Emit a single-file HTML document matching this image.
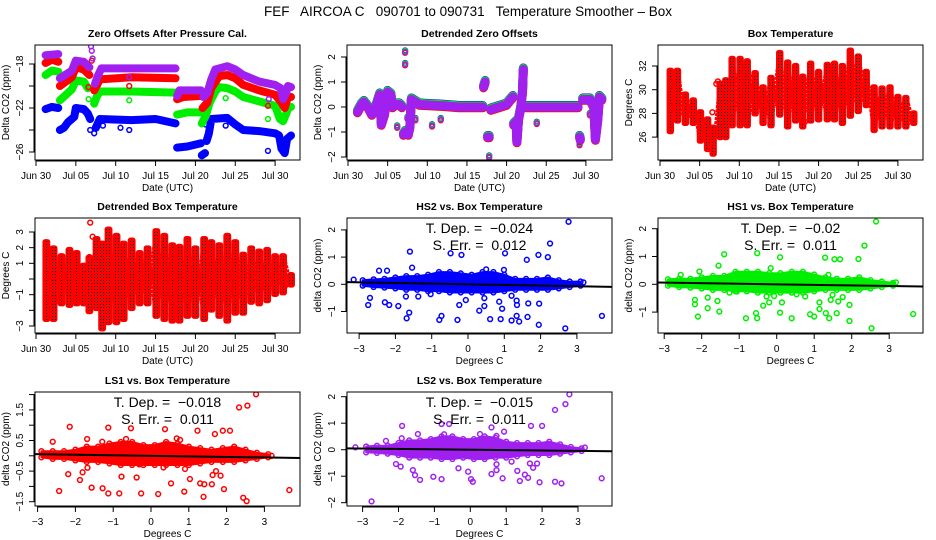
<!DOCTYPE html>
<html><head><meta charset="utf-8"><style>
html,body{margin:0;padding:0;background:#fff;}
svg{display:block;font-family:"Liberation Sans",sans-serif;}
text{white-space:pre;}
</style></head><body>
<svg id="chart" width="936" height="540" viewBox="0 0 936 540" xmlns="http://www.w3.org/2000/svg">
<defs>
<pattern id="redchk" width="3" height="3" patternUnits="userSpaceOnUse"><rect width="3" height="3" fill="#ff0000"/><rect x="1" y="1" width="1" height="1" fill="#000"/></pattern>
</defs>
<text x="468" y="16" text-anchor="middle" font-size="13.5" xml:space="preserve">FEF   AIRCOA C   090701 to 090731   Temperature Smoother – Box</text>
</svg>
<script>
// ---------- DATA ----------
const dateTickDays = [0,5,10,15,20,25,30];
const dateTickLabels = ["Jun 30","Jul 05","Jul 10","Jul 15","Jul 20","Jul 25","Jul 30"];
const tempTicks = [-3,-2,-1,0,1,2,3];

const zoLS2 = [[1.2,-17.2],[2.8,-17.1],null,[3,-19.3],[4.5,-18.6],[5,-17.7],[6,-17.8],[6.7,-18.3],null,[7.4,-19.8],[7.8,-19],[8.2,-18.4],[12,-18.4],[17.5,-18.4],null,[17.7,-20.9],[18,-20.4],[20.7,-20.4],null,[21,-21],[21.5,-20.6],[22,-19.4],[22.5,-18.5],[24,-18.2],[25,-18.5],[26,-19],[28,-19.6],[30,-19.9],[30.7,-20.2],[31,-21.2],[31.4,-20.6],[31.6,-20],[32,-20.1]];
const zoLS2Out = [[6.9,-16.4],[7,-16.8],[7.1,-17.5],[11.7,-19.2],[29.2,-21.2]];
const zoLS1 = [[1.2,-17.9],[2,-17.6],[2.8,-17.8],null,[3,-20],[4.5,-19.2],[5,-18.3],[6,-18.5],[6.7,-19],null,[7.3,-20.4],[7.6,-20],[8,-19.4],[12,-19.2],[17.5,-19.3],null,[17.7,-21.2],[18.5,-21],[20.7,-20.9],null,[20.9,-22],[21.5,-21.5],[22,-20.2],[23,-19.1],[24,-19],[25,-19.3],[26,-19.9],[28,-20.4],[30,-20.8],[30.8,-21.5],[31.2,-22],[31.6,-21],[32,-21]];
const zoLS1Out = [[7,-17.7],[6.6,-20.1],[11.7,-20],[29.1,-21.8],[30.6,-20.2]];
const zoHS1 = [[1.2,-19],[2,-18.6],[2.8,-18.7],null,[3,-21.3],[4.5,-20.3],[5,-19.5],[6,-19.6],[6.5,-20.2],null,[7.3,-21.6],[7.6,-21],[8,-20.5],[12,-20.5],[17.5,-20.6],null,[17.7,-22.6],[19,-22.4],[20.7,-22.4],null,[20.8,-23.4],[21.3,-22.7],[21.8,-21.5],[22.5,-20.5],[23,-20.1],[24,-20.2],[25,-20.5],[26,-21],[28,-21.4],[30,-21.8],[30.6,-23],[31,-23.2],[31.4,-22.5],[31.7,-21.9],[32,-21.9]];
const zoHS1Out = [[6.6,-21.2],[11.7,-21.3],[23.8,-21.1],[29.1,-23],[31.3,-22.5],[21.5,-21.7]];
const zoHS2 = [[1.2,-22.1],[2,-21.9],[2.8,-22],null,[3,-24],[3.5,-23.8],[4,-23.3],[4.8,-22.8],[5,-22],[6,-22.1],[6.5,-22.5],[6.8,-23],null,[7.5,-23.8],[8,-23],[12,-23.1],[15,-23],[17.5,-23.4],null,[17.7,-25.6],[19,-25.5],[20.7,-25.2],null,[20.8,-26.3],[21.2,-26.1],null,[21.4,-25],[21.7,-24.3],[22,-23],[24,-22.9],[25,-23.5],[26,-24],[28,-24.1],[30,-24.3],[30.5,-24.5],[30.8,-25.7],[31.2,-26.1],[31.5,-24.8],[32,-24.5]];
const zoHS2Out = [[6.8,-24],[7.3,-24.3],[7.4,-23.8],[8.4,-23.6],[10.6,-23.8],[11.7,-24],[21.3,-23.5],[23.8,-23.6],[29.1,-25.9],[31.2,-25.5],[30.7,-25.7]];

const detZO = [[1.2,-0.2],[1.7,0.1],[2,0.2],[2.5,0],[3,-0.3],[3.5,0],[4,0.5],[4.2,-0.7],[4.6,-0.3],[5,0.6],[5.4,0.5],[5.6,0],[6,0.1],[6.5,0.1],[6.8,0],null,[7,-1.1],[7.2,-1],null,[7.6,-1.1],[7.8,-0.8],[8,0.3],[9,0.1],[12,0.05],[14,0],[17,0],null,[17.1,0.8],[17.3,1],null,[17.6,-1.2],[17.8,-1.2],null,[18,-0.1],[19,0],[20,0.1],[20.5,0.3],[20.8,0.4],null,[20.9,-0.7],[21.2,-0.6],[21.3,-1.4],[21.5,-0.5],[21.8,0],[22,0.6],[22.1,1.5],null,[22.4,0],[25,0],[29,0],null,[29.2,-1.2],[29.3,-1.3],null,[29.6,0.3],[30.5,0.3],[31,0],[31.2,-1.3],[31.5,-0.5],[31.7,0.4],[32,0.3]];
const detZOOut = [[7.2,2.2],[7.2,1.7],[7.5,-0.45],[8.5,-0.5],[6.2,-0.8],[10.6,-0.75],[11.7,-0.5],[17.8,-2],[23.8,-0.65],[30.5,-0.3],[29.2,-1.5]];

const boxDays = [1.3,2.2,3.2,4.2,5.1,6.0,6.7,7.6,8.3,9.1,10.1,11.0,12.0,13.0,14.0,15.1,16.1,17.1,18.0,19.0,20.0,21.1,22.0,23.0,24.0,25.0,26.0,27.0,28.0,29.0,30.0,31.0,32.0];
const boxHi = [31.8,31.8,29.8,29.3,28.3,27.7,27.0,30.7,31.0,32.8,32.8,32.6,31.6,30.4,31.2,33.3,32.5,32.2,31.3,32.4,31.7,32.3,32.4,32.2,33.5,33.0,31.7,30.4,30.3,30.4,29.6,29.5,28.2];
const boxLo = [26.3,27.2,27.0,27.0,25.5,24.8,24.4,25.8,25.8,26.8,26.8,26.8,27.8,27.0,26.8,27.7,26.7,27.2,26.7,27.2,27.3,27.3,27.3,27.0,27.6,28.0,28.5,26.4,26.7,26.7,26.7,26.7,27.0];
const boxOut = [[7.1,30.5],[7.3,30.7],[6.6,28.1],[18.3,27.3]];
const detHi = [2.5,2.1,1.6,2.0,1.8,1.0,1.5,2.7,2.4,3.3,2.9,2.4,2.6,1.8,2.1,3.2,2.9,2.3,2.2,2.7,2.1,2.7,2.5,2.3,2.9,2.5,1.7,2.1,1.9,2.0,1.6,1.6,0.4];
const detLo = [-2.7,-2.7,-1.7,-1.8,-1.7,-1.7,-2.2,-2.0,-3.3,-2.9,-2.9,-2.7,-2.0,-1.7,-1.7,-2.5,-2.7,-2.8,-2.8,-2.5,-2.5,-2.7,-2.1,-2.5,-2.8,-2.3,-2.3,-1.6,-1.7,-1.5,-1.1,-1.0,-0.5];
const detBoxOut = [[6.8,3.6],[7.1,2.7],[6.7,1.4]];

const coreX = [-2.9,-2.6,-2.3,-2.0,-1.7,-1.4,-1.1,-0.8,-0.5,-0.2,0.1,0.4,0.7,1.0,1.3,1.6,1.9,2.2,2.5,2.8,3.1];
const hs2Hi = [0.15,0.18,0.2,0.25,0.3,0.3,0.35,0.45,0.45,0.4,0.35,0.45,0.45,0.35,0.2,0.2,0.2,0.25,0.15,0.1,0.1];
const hs2Lo = [-0.05,-0.1,-0.12,-0.15,-0.2,-0.2,-0.25,-0.25,-0.3,-0.3,-0.3,-0.3,-0.3,-0.25,-0.2,-0.2,-0.2,-0.2,-0.15,-0.1,-0.05];
const hs1Hi = [0.18,0.2,0.2,0.25,0.3,0.3,0.45,0.45,0.45,0.4,0.4,0.45,0.45,0.35,0.25,0.2,0.2,0.25,0.15,0.1,0.05];
const hs1Lo = [-0.05,-0.1,-0.12,-0.15,-0.2,-0.2,-0.25,-0.25,-0.3,-0.3,-0.3,-0.3,-0.3,-0.25,-0.2,-0.2,-0.2,-0.2,-0.15,-0.1,-0.05];
const ls1Hi = [0.15,0.15,0.15,0.2,0.3,0.3,0.4,0.45,0.45,0.35,0.35,0.45,0.4,0.3,0.25,0.2,0.25,0.3,0.2,0.1,0.05];
const ls1Lo = [-0.05,-0.1,-0.1,-0.15,-0.2,-0.2,-0.25,-0.3,-0.3,-0.3,-0.3,-0.3,-0.3,-0.3,-0.25,-0.2,-0.2,-0.2,-0.15,-0.1,-0.05];
const ls2Hi = [0.12,0.15,0.15,0.25,0.35,0.35,0.4,0.5,0.5,0.4,0.4,0.5,0.45,0.3,0.25,0.25,0.25,0.3,0.2,0.1,0.05];
const ls2Lo = [-0.1,-0.12,-0.15,-0.2,-0.3,-0.3,-0.3,-0.35,-0.35,-0.3,-0.35,-0.35,-0.3,-0.3,-0.25,-0.2,-0.2,-0.2,-0.15,-0.1,-0.05];

const hs2Out = [[2.77,2.3],[2.26,1.5],[-1.6,1.2],[-0.48,1.14],[-0.18,1.08],[1.02,1.14],[1.94,1.08],[2.2,1.0],[1.62,0.9],[-2.45,0.5],[-2.23,0.5],[-1.54,0.61],[-2.7,-0.5],[-2.75,-0.76],[-2.29,-0.66],[-2.17,-0.76],[-1.92,-0.8],[-1.71,-0.45],[-1.37,-0.45],[-1.62,-1.04],[-1.69,-1.25],[-1.03,-0.36],[-0.73,-1.16],[-0.79,-1.31],[-0.29,-1.31],[-0.24,-0.76],[-0.06,-0.58],[0.31,-0.97],[0.45,-0.51],[0.45,-0.8],[0.61,-1.28],[0.9,-1.28],[0.94,-0.9],[0.86,-0.64],[1.2,-0.42],[1.2,-1.33],[1.34,-0.6],[1.35,-0.76],[1.41,-1.37],[1.34,-1.16],[1.66,-0.7],[1.64,-1.2],[1.95,-1.49],[1.96,-0.71],[2.68,-1.62],[3.69,-1.16],[3.18,0.07],[0.99,0.53],[0.5,0.55],[-3.15,0.17]];
const hs1Out = [[2.65,2.26],[2.34,1.39],[-1.4,1.08],[-0.52,1.12],[0.09,0.97],[1.29,0.96],[1.54,0.9],[1.69,0.9],[2.18,0.91],[-1.55,0.67],[-2.06,0.46],[-2.56,0.34],[-0.16,0.58],[1.38,0.34],[-2.18,-0.56],[-2.18,-0.72],[-1.84,-0.48],[-1.84,-0.86],[-1.58,-0.6],[-1.53,-0.98],[-2.1,-1.16],[-1.26,-0.3],[-1.06,-0.26],[-0.82,-1.22],[-0.55,-1.04],[-0.52,-1.22],[-0.36,-0.77],[-0.27,-0.44],[-0.07,-0.42],[-0.2,-0.65],[0.09,-1.02],[0.14,-0.65],[0.4,-1.22],[0.53,-0.36],[0.76,-0.44],[0.89,-1.08],[1.0,-1.16],[1.14,-0.65],[1.14,-0.89],[1.31,-1.04],[1.4,-1.22],[1.44,-0.56],[1.49,-0.38],[1.6,-1.04],[1.64,-0.62],[1.76,-0.46],[1.94,-0.74],[1.94,-1.32],[2.53,-1.58],[3.64,-1.07],[3.18,0.07],[3.09,0]];
const ls1Out = [[2.78,2.01],[2.55,1.64],[2.33,1.58],[-2.15,0.95],[-1.13,0.92],[-0.53,0.9],[0.37,0.87],[1.23,0.82],[1.9,0.82],[2.09,0.82],[1.69,0.71],[0.68,0.57],[0.77,0.52],[-2.6,0.46],[-1.69,0.55],[-0.66,0.55],[-1.29,0.46],[-2.19,-0.6],[-1.81,-0.54],[-1.88,-0.79],[-1.68,-0.39],[-0.78,-0.68],[-0.38,-0.71],[-2.43,-1.15],[-1.57,-1.04],[-1.28,-1.06],[-1.13,-1.23],[-0.84,-1.23],[-0.26,-1.23],[0.19,-1.25],[0.53,-0.9],[0.88,-1.17],[1.03,-0.76],[1.3,-0.9],[1.41,-0.93],[1.61,-0.93],[1.39,-1.34],[1.63,-0.63],[1.84,-0.65],[1.93,-1.09],[1.72,-0.5],[2.44,-1.37],[2.53,-1.48],[3.66,-1.12],[3.19,0.0],[0.33,-0.38],[0.9,-0.43],[-0.31,-0.28]];
const ls2Out = [[2.76,2.09],[2.65,1.72],[2.36,1.5],[-1.9,0.9],[-0.8,0.97],[-0.59,0.97],[0.59,0.84],[0.94,0.68],[1.69,0.9],[2.0,0.9],[-1.46,0.59],[0.73,0.52],[0.27,0.59],[-0.73,0.58],[-2.35,0.33],[-3.2,0.09],[-2.07,-0.54],[-1.94,-0.64],[-1.6,-0.77],[-1.54,-0.96],[-1.4,-1.14],[-1.03,-1.02],[-0.8,-1.11],[-0.33,-0.7],[-0.06,-0.83],[0.02,-1.11],[0.07,-1.21],[0.59,-0.92],[0.73,-0.55],[0.73,-0.77],[0.9,-1.08],[1.15,-0.45],[1.31,-0.8],[1.38,-1.18],[1.52,-0.94],[1.61,-1.06],[1.66,-0.52],[1.75,-0.68],[1.86,-0.52],[1.93,-1.23],[2.36,-1.21],[2.54,-1.27],[3.66,-1.08],[3.19,0.08],[-1.91,0.43],[-2.75,-1.95]];

const slopes = [-0.024,-0.02,-0.018,-0.015];
const intercepts = [0.0,0.0,0.0,0.0];
const sErrs = ["0.012","0.011","0.011","0.011"];
const slopeLabels = ["−0.024","−0.02","−0.018","−0.015"];

// ---------- DRAWING ----------
const svg = document.getElementById('chart');
const NS = 'http://www.w3.org/2000/svg';
function mk(tag, attrs, name, parent){
  const el = document.createElementNS(NS, tag);
  for (const k in attrs) el.setAttribute(k, attrs[k]);
  
  
  (parent||svg).appendChild(el);
  return el;
}
function txt(x,y,s,name,opts,parent){
  const t = mk('text', Object.assign({x:x,y:y,'text-anchor':'middle','font-size':10}, opts||{}), name, parent);
  t.textContent = s;
  return t;
}

function panel(cfg){
  const g = mk('g', {}, cfg.name);
  const {x0,x1,y0,y1} = cfg;
  txt((x0+x1)/2, y0-8, cfg.title, 'panel-title', {'font-weight':'bold','font-size':10.5}, g);
  const xa = mk('g', {}, 'x-axis', g);
  const xs = cfg.xticks.map(cfg.sx);
  mk('line', {x1:xs[0], x2:xs[xs.length-1], y1:y1+1, y2:y1+1, stroke:'#000'}, 'x-axis-line', xa);
  cfg.xticks.forEach((v,i)=>{
    const px = cfg.sx(v);
    mk('line', {x1:px,x2:px,y1:y1,y2:y1+6,stroke:'#000'}, 'x-tick', xa);
    txt(px, y1+19, cfg.xlabels[i], 'x-tick-label', {}, xa);
  });
  txt((x0+x1)/2, y1+31, cfg.xtitle, 'x-axis-title', {}, g);
  const ya = mk('g', {}, 'y-axis', g);
  const ys = cfg.yticks.map(cfg.sy);
  mk('line', {x1:x0-1, x2:x0-1, y1:ys[0], y2:ys[ys.length-1], stroke:'#000'}, 'y-axis-line', ya);
  cfg.yticks.forEach((v,i)=>{
    const py = cfg.sy(v);
    mk('line', {x1:x0-6,x2:x0,y1:py,y2:py,stroke:'#000'}, 'y-tick', ya);
    if (cfg.ylabels[i] !== '') {
      const lx = x0-12;
      txt(lx, py, cfg.ylabels[i], 'y-tick-label', {transform:`rotate(-90 ${lx} ${py})`}, ya);
    }
  });
  const tx = x0-26, ty=(y0+y1)/2;
  txt(tx, ty, cfg.ytitle, 'y-axis-title', {transform:`rotate(-90 ${tx} ${ty})`}, g);
  const cid = 'clip-'+cfg.name;
  const cp = mk('clipPath', {id:cid}, 'clip', g);
  mk('rect', {x:x0,y:y0,width:x1-x0,height:y1-y0}, 'clip-rect', cp);
  const plot = mk('g', {'clip-path':`url(#${cid})`}, 'plot-area', g);
  mk('rect', {x:x0,y:y0,width:x1-x0,height:y1-y0,fill:'none',stroke:'#000','stroke-width':1}, 'plot-box', g);
  return plot;
}

function band(plot, pts, sx, sy, color, w, name){
  let seg = [];
  const flush = ()=>{
    if (seg.length){
      mk('polyline', {points:seg.join(' '), fill:'none', stroke:color, 'stroke-width':w, 'stroke-linejoin':'round','stroke-linecap':'round'}, name, plot);
    }
    seg = [];
  };
  pts.forEach(p=>{ if (p===null) flush(); else seg.push(sx(p[0]).toFixed(1)+','+sy(p[1]).toFixed(1)); });
  flush();
}
function markers(plot, pts, sx, sy, color, name){
  pts.forEach(p=>{
    mk('circle', {cx:sx(p[0]), cy:sy(p[1]), r:2.4, fill:'none', stroke:color, 'stroke-width':1.5}, name, plot);
  });
}

const LS2C = '#a020f0', LS1C = '#ff0000', HS1C = '#00ee00', HS2C = '#0000ff';
const dayX = c => (c===0? d=>36+d*7.97 : c===1? d=>348+d*7.93 : d=>660+d*7.93);

{
  const sx = dayX(0), sy = v=>64+(-18-v)*11;
  const p = panel({name:'zero-offsets-panel', title:'Zero Offsets After Pressure Cal.', x0:35,x1:300,y0:45,y1:160, sx, sy,
    xticks:dateTickDays, xlabels:dateTickLabels, xtitle:'Date (UTC)', yticks:[-18,-20,-22,-24,-26], ylabels:['−18','','−22','','−26'], ytitle:'Delta CO2 (ppm)'});
  [[zoHS2,zoHS2Out,HS2C,'hs2'],[zoHS1,zoHS1Out,HS1C,'hs1'],[zoLS1,zoLS1Out,LS1C,'ls1'],[zoLS2,zoLS2Out,LS2C,'ls2']].forEach(s=>{
    band(p, s[0], sx, sy, s[2], 8, 'series-'+s[3]);
    markers(p, s[1], sx, sy, s[2], 'outlier-'+s[3]);
  });
}
{
  const sx = dayX(1), sy = v=>107-v*25;
  const p = panel({name:'detrended-zero-offsets-panel', title:'Detrended Zero Offsets', x0:347,x1:612,y0:45,y1:160, sx, sy,
    xticks:dateTickDays, xlabels:dateTickLabels, xtitle:'Date (UTC)', yticks:[-2,-1,0,1,2], ylabels:['−2','−1','0','1','2'], ytitle:'Delta CO2 (ppm)'});
  [[HS2C,'hs2',0.06],[HS1C,'hs1',0.04],[LS1C,'ls1',-0.03],[LS2C,'ls2',0]].forEach(s=>{
    const syo = v=>sy(v)-s[2]*25;
    band(p, detZO, sx, syo, s[0], 9, 'detrended-'+s[1]);
    markers(p, detZOOut, sx, syo, s[0], 'detrended-outlier-'+s[1]);
  });
}
function tempPanel(cfg, hi, lo, out, wDay){
  const p = panel(cfg);
  for (let i=0;i<boxDays.length-1;i++){
    mk('line', {x1:cfg.sx(boxDays[i]), y1:cfg.sy(lo[i]), x2:cfg.sx(boxDays[i+1]), y2:cfg.sy(hi[i+1]), stroke:'#ff0000','stroke-width':4,'stroke-dasharray':'3 1'}, 'temp-connector', p);
    mk('line', {x1:cfg.sx(boxDays[i]), y1:cfg.sy(hi[i]), x2:cfg.sx(boxDays[i+1]), y2:cfg.sy(lo[i+1]), stroke:'#ff0000','stroke-width':4,'stroke-dasharray':'3 1'}, 'temp-connector', p);
  }
  boxDays.forEach((d,i)=>{
    const xa = cfg.sx(d-wDay/2), xb = cfg.sx(d+wDay/2);
    mk('rect', {x:xa, y:cfg.sy(hi[i]), width:xb-xa, height:cfg.sy(lo[i])-cfg.sy(hi[i]), rx:2, fill:'url(#redchk)', stroke:'#ff0000','stroke-width':1.5}, 'temp-day-band', p);
  });
  markers(p, out, cfg.sx, cfg.sy, '#ff0000', 'temp-outlier');
}
tempPanel({name:'box-temperature-panel', title:'Box Temperature', x0:658,x1:923,y0:45,y1:160, sx:dayX(2), sy:v=>66+(32-v)*11.85,
  xticks:dateTickDays, xlabels:dateTickLabels, xtitle:'Date (UTC)', yticks:[26,28,30,32], ylabels:['26','28','30','32'], ytitle:'Degrees C'}, boxHi, boxLo, boxOut, 0.75);
tempPanel({name:'detrended-box-temperature-panel', title:'Detrended Box Temperature', x0:35,x1:300,y0:218,y1:333, sx:dayX(0), sy:v=>279-v*15.67,
  xticks:dateTickDays, xlabels:dateTickLabels, xtitle:'Date (UTC)', yticks:tempTicks.slice().reverse(), ylabels:['3','2','1','','−1','','−3'], ytitle:'Degrees C'}, detHi, detLo, detBoxOut, 0.8);

function scatterPanel(cfg, hi, lo, out, color, k){
  const p = panel(cfg);
  const poly = coreX.map((x,i)=>cfg.sx(x).toFixed(1)+','+cfg.sy(hi[i]).toFixed(1)).concat(coreX.slice().reverse().map((x,j)=>{const i=coreX.length-1-j; return cfg.sx(x).toFixed(1)+','+cfg.sy(lo[i]).toFixed(1);}));
  mk('polygon', {points:poly.join(' '), fill:color, stroke:color,'stroke-width':2,'stroke-linejoin':'round'}, 'dense-cluster', p);
  markers(p, coreX.map((x,i)=>[x,hi[i]]), cfg.sx, cfg.sy, color, 'cluster-point');
  markers(p, coreX.map((x,i)=>[x,lo[i]]), cfg.sx, cfg.sy, color, 'cluster-point');
  markers(p, out, cfg.sx, cfg.sy, color, 'scatter-point');
  const xa=-4, xb=4.2;
  mk('line', {x1:cfg.sx(xa), y1:cfg.sy(intercepts[k]+slopes[k]*xa), x2:cfg.sx(xb), y2:cfg.sy(intercepts[k]+slopes[k]*xb), stroke:'#000','stroke-width':2}, 'regression-line', p);
  const cx=(cfg.x0+cfg.x1)/2;
  txt(cx, cfg.y0+15, 'T. Dep. =  '+slopeLabels[k], 'temp-dependence-label', {'font-size':14});
  txt(cx, cfg.y0+32, 'S. Err. =  '+sErrs[k], 'standard-error-label', {'font-size':14});
}
const dtLabels = ['−3','−2','−1','0','1','2','3'];
scatterPanel({name:'hs2-vs-box-temp-panel', title:'HS2 vs. Box Temperature', x0:347,x1:612,y0:218,y1:333, sx:v=>468+v*36.3, sy:v=>284.3-v*27.2,
  xticks:tempTicks, xlabels:dtLabels, xtitle:'Degrees C', yticks:[-1,0,1,2], ylabels:['−1','0','1','2'], ytitle:'delta CO2 (ppm)'}, hs2Hi, hs2Lo, hs2Out, HS2C, 0);
scatterPanel({name:'hs1-vs-box-temp-panel', title:'HS1 vs. Box Temperature', x0:658,x1:923,y0:218,y1:333, sx:v=>776.7+v*37.5, sy:v=>284.3-v*27.8,
  xticks:tempTicks, xlabels:dtLabels, xtitle:'Degrees C', yticks:[-1,0,1,2], ylabels:['−1','0','1','2'], ytitle:'delta CO2 (ppm)'}, hs1Hi, hs1Lo, hs1Out, HS1C, 1);
scatterPanel({name:'ls1-vs-box-temp-panel', title:'LS1 vs. Box Temperature', x0:35,x1:300,y0:392,y1:506, sx:v=>151+v*37.8, sy:v=>455.8-v*30.6,
  xticks:tempTicks, xlabels:dtLabels, xtitle:'Degrees C', yticks:[-1.5,-1,-0.5,0,0.5,1,1.5,2], ylabels:['−1.5','','−0.5','','0.5','','1.5',''], ytitle:'delta CO2 (ppm)'}, ls1Hi, ls1Lo, ls1Out, LS1C, 2);
scatterPanel({name:'ls2-vs-box-temp-panel', title:'LS2 vs. Box Temperature', x0:347,x1:612,y0:392,y1:506, sx:v=>470.3+v*35.9, sy:v=>449.7-v*26.5,
  xticks:tempTicks, xlabels:dtLabels, xtitle:'Degrees C', yticks:[-2,-1,0,1,2], ylabels:['−2','−1','0','1','2'], ytitle:'delta CO2 (ppm)'}, ls2Hi, ls2Lo, ls2Out, LS2C, 3);
</script>
</body></html>
